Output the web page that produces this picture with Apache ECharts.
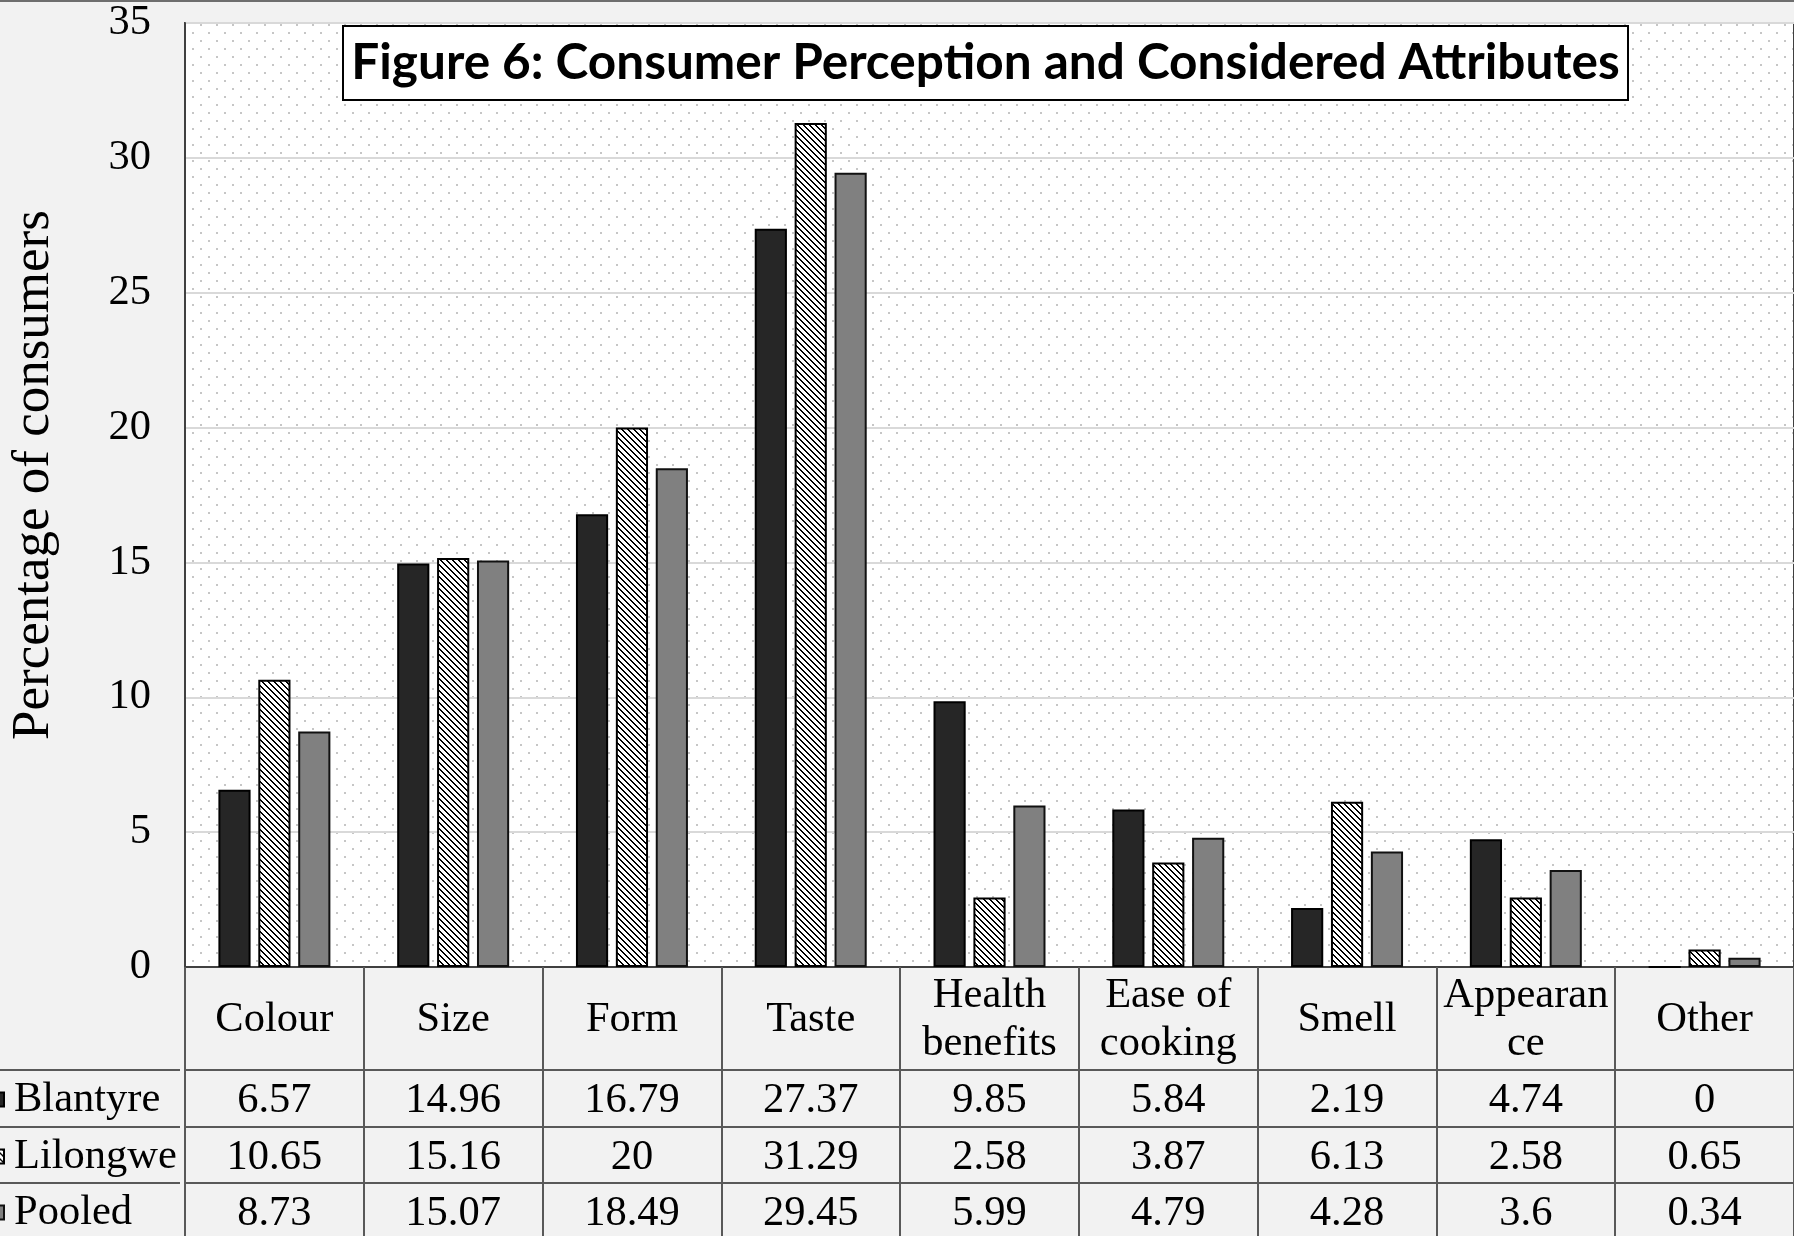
<!DOCTYPE html>
<html>
<head>
<meta charset="utf-8">
<title>Consumer Perception and Considered Attributes</title>
<script src="https://cdn.jsdelivr.net/npm/echarts@6/dist/echarts.min.js"></script>
<style>
  html, body { margin: 0; padding: 0; background: #f2f2f2; }
  #chart { width: 1794px; height: 1236px; }
</style>
</head>
<body>
<div id="chart"></div>
<script>
// ---- data ----
const categories = ['Colour', 'Size', 'Form', 'Taste', 'Health\nbenefits', 'Ease of\ncooking', 'Smell', 'Appearan\nce', 'Other'];
const seriesNames = ['Blantyre', 'Lilongwe', 'Pooled'];
const blantyre = [6.57, 14.96, 16.79, 27.37, 9.85, 5.84, 2.19, 4.74, 0];
const lilongwe = [10.65, 15.16, 20, 31.29, 2.58, 3.87, 6.13, 2.58, 0.65];
const pooled   = [8.73, 15.07, 18.49, 29.45, 5.99, 4.79, 4.28, 3.6, 0.34];
const yTicks = [0, 5, 10, 15, 20, 25, 30, 35];
const titleText = 'Figure 6: Consumer Perception and Considered Attributes';
const yTitle = 'Percentage of consumers';

// ---- layout ----
const W = 1794, H = 1236;
const PLOT_LEFT = 180, PLOT_TOP = 23, PLOT_BASE = 967;
const ROW_OFFSETS = [103, 160, 216];      // table row separators below the baseline
const ROW_LABEL_MARGIN = 31;              // from a row's top line to its text centre
const SERIF = '"Liberation Serif", "Times New Roman", serif';
const LINE = '#595959';
const FS = 42.5;

// fills: white with staggered grey dots (plot area), black diagonal hatch (Lilongwe)
function dotTile() {
  const c = document.createElement('canvas');
  c.width = 16; c.height = 16;
  const g = c.getContext('2d');
  g.fillStyle = '#ffffff'; g.fillRect(0, 0, 16, 16);
  g.fillStyle = '#c6c6c6';
  g.fillRect(0, 0, 2, 2);
  g.fillRect(8, 8, 2, 2);
  return c;
}
function hatchTile() {
  const s = 6;
  const c = document.createElement('canvas');
  c.width = s; c.height = s;
  const g = c.getContext('2d');
  g.fillStyle = '#ffffff'; g.fillRect(0, 0, s, s);
  g.fillStyle = '#000000';
  for (let i = 0; i < s; i++) {
    g.fillRect(i, i, 1, 1);
    g.fillRect((i + 1) % s, i, 1, 1);
  }
  return c;
}

// title font size chosen so the heading fills its frame
function fitFont(text, family, weight, targetWidth) {
  const g = document.createElement('canvas').getContext('2d');
  g.font = weight + ' 100px ' + family;
  return Math.round(100 * targetWidth / g.measureText(text).width * 10) / 10;
}
const TITLE_FAMILY = 'Lato, "Open Sans", sans-serif';
const titleSize = Math.min(56, fitFont(titleText, TITLE_FAMILY, 'bold', 1268));

const chart = echarts.init(document.getElementById('chart'), null, { renderer: 'canvas', width: W, height: H });

const seriesData = [blantyre, lilongwe, pooled];
const seriesStyles = [
  { color: '#262626', borderColor: '#000000', borderWidth: 2 },
  { color: { image: hatchTile(), repeat: 'repeat' }, borderColor: '#000000', borderWidth: 2 },
  { color: '#808080', borderColor: '#111111', borderWidth: 2 }
];

// one data-table row per series, drawn as an offset category axis
const rowAxes = seriesData.map((vals, k) => ({
  type: 'category',
  gridIndex: 0,
  data: categories,
  position: 'bottom',
  offset: ROW_OFFSETS[k],
  axisLine: { show: true, onZero: false, lineStyle: { color: LINE, width: 2 } },
  axisTick: { show: false },
  axisLabel: {
    interval: 0,
    margin: ROW_LABEL_MARGIN,
    verticalAlign: 'middle',
    fontFamily: SERIF,
    fontSize: FS,
    color: '#000',
    formatter: (v, i) => String(vals[i])
  },
  splitLine: { show: false }
}));

// row headers: one legend entry beside each table row
const LEGEND_LINE_H = 40;
const legends = seriesNames.map((name, k) => ({
  data: [name],
  orient: 'vertical',
  left: -11,
  top: PLOT_BASE + ROW_OFFSETS[k] + ROW_LABEL_MARGIN - LEGEND_LINE_H / 2 - 3,
  height: 60,
  padding: 0,
  icon: 'rect',
  itemWidth: 14,
  itemHeight: 14,
  selectedMode: false,
  textStyle: { fontFamily: SERIF, fontSize: FS, lineHeight: LEGEND_LINE_H, color: '#000', padding: [0, 0, 0, 5] }
}));

const option = {
  backgroundColor: '#f2f2f2',
  animation: false,
  grid: {
    left: PLOT_LEFT,
    top: PLOT_TOP,
    right: -6,
    bottom: H - PLOT_BASE,
    show: true,
    backgroundColor: { image: dotTile(), repeat: 'repeat' },
    borderColor: '#404040',
    borderWidth: 2
  },
  legend: legends,
  xAxis: [{
    type: 'category',
    data: categories,
    position: 'bottom',
    axisLine: { show: true, lineStyle: { color: '#404040', width: 2 } },
    axisTick: { show: true, interval: 0, length: 272, lineStyle: { color: LINE, width: 2 } },
    axisLabel: {
      interval: 0,
      margin: 53,
      verticalAlign: 'middle',
      fontFamily: SERIF,
      fontSize: FS,
      lineHeight: 48,
      color: '#000'
    },
    splitLine: { show: false }
  }].concat(rowAxes),
  yAxis: {
    type: 'value',
    min: yTicks[0],
    max: yTicks[yTicks.length - 1],
    interval: yTicks[1] - yTicks[0],
    name: yTitle,
    nameLocation: 'middle',
    nameGap: 124,
    nameTextStyle: { fontFamily: SERIF, fontSize: 53, color: '#000', padding: [0, 0, 0, 40] },
    axisLine: { show: true, lineStyle: { color: '#404040', width: 2 } },
    axisTick: { show: false },
    axisLabel: { fontFamily: SERIF, fontSize: FS, color: '#000', margin: 34 },
    splitLine: { show: true, lineStyle: { color: '#d9d9d9', width: 2 } }
  },
  series: seriesNames.map((name, k) => ({
    name,
    type: 'bar',
    xAxisIndex: 0,
    data: seriesData[k],
    barWidth: '18%',
    barGap: '24%',
    itemStyle: seriesStyles[k],
    emphasis: { disabled: true }
  })),
  graphic: [
    // thin frame line along the top edge
    { type: 'rect', left: 0, top: 0, z: 10, shape: { width: W, height: 2 }, style: { fill: '#6e6e6e' } },
    // table row separators continuing under the row-header column
    ...ROW_OFFSETS.map(off => ({
      type: 'line', z: 10,
      shape: { x1: 0, y1: PLOT_BASE + off, x2: PLOT_LEFT, y2: PLOT_BASE + off },
      style: { stroke: LINE, lineWidth: 2 }
    })),
    // heading in a framed box
    {
      type: 'group', z: 20,
      children: [
        { type: 'rect', shape: { x: 343, y: 26, width: 1285, height: 74 }, style: { fill: '#ffffff', stroke: '#000000', lineWidth: 2 } },
        {
          type: 'text', x: 985.5, y: 63,
          style: {
            text: titleText, align: 'center', verticalAlign: 'middle',
            font: 'bold ' + titleSize + 'px ' + TITLE_FAMILY, fill: '#000'
          }
        }
      ]
    }
  ]
};

chart.setOption(option);
</script>
</body>
</html>
